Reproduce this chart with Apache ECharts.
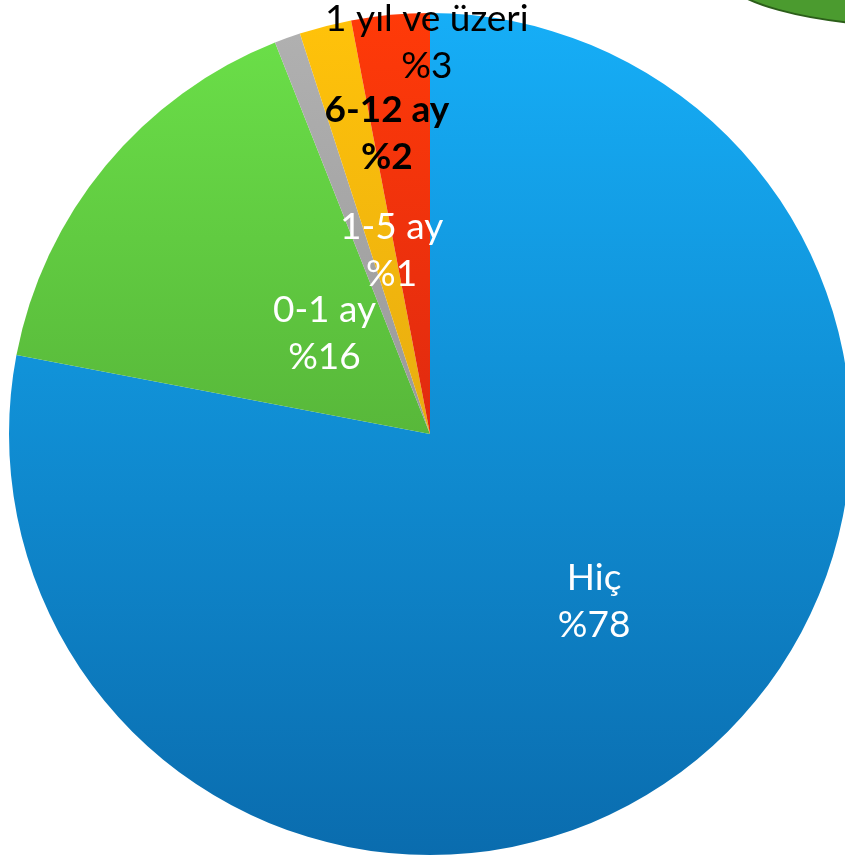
<!DOCTYPE html>
<html>
<head>
<meta charset="utf-8">
<script src="https://cdn.jsdelivr.net/npm/echarts@6/dist/echarts.min.js"></script>
<style>html,body{margin:0;padding:0;background:#fff}#c{width:845px;height:862px}</style>
</head>
<body>
<div id="c"></div>
<script>
// Data
const categories = ['Hiç', '0-1 ay', '1-5 ay', '6-12 ay', '1 yıl ve üzeri'];
const values = [78, 16, 1, 2, 3];
const percentLabels = ['%78', '%16', '%1', '%2', '%3'];

// Styles
const topColors = ['#16aef7', '#6ade48', '#b0b0b0', '#ffc20a', '#ff3a08'];
const bottomColors = ['#0a6cae', '#58b83a', '#9a9a9a', '#e8ad10', '#e02a10'];
const labelColors = ['#fff', '#fff', '#fff', '#000', '#000'];
const labelWeights = ['normal', 'normal', 'normal', 'bold', 'normal'];
const labelShift = [[28, 3], [59, 36], [34, 17], [10, -94], [17, -179]];

const chart = echarts.init(document.getElementById('c'), null, {renderer: 'canvas'});
const data = categories.map((name, i) => ({
  name, value: values[i],
  itemStyle: {
    color: {type: 'linear', x: 0, y: 0, x2: 0, y2: 1,
      colorStops: [{offset: 0, color: topColors[i]}, {offset: 1, color: bottomColors[i]}]}
  },
  label: {color: labelColors[i], fontWeight: labelWeights[i]}
}));

chart.setOption({
  animation: false,
  graphic: [{
    type: 'ellipse', shape: {cx: 920, cy: -29, rx: 200, ry: 55},
    style: {fill: '#4b9b2f', stroke: '#2c5e1a', lineWidth: 2}, z: 1
  }],
  series: [{
    type: 'pie',
    center: [430, 434],
    radius: [0, 421],
    startAngle: 90,
    clockwise: true,
    data,
    itemStyle: {borderWidth: 0},
    label: {
      show: true, position: 'inside',
      fontFamily: 'Lato', fontSize: 37, lineHeight: 47,
      formatter: p => p.name + '\n' + percentLabels[p.dataIndex]
    },
    labelLine: {show: false},
    labelLayout: p => ({dx: labelShift[p.dataIndex][0], dy: labelShift[p.dataIndex][1]})
  }]
});
</script>
</body>
</html>
